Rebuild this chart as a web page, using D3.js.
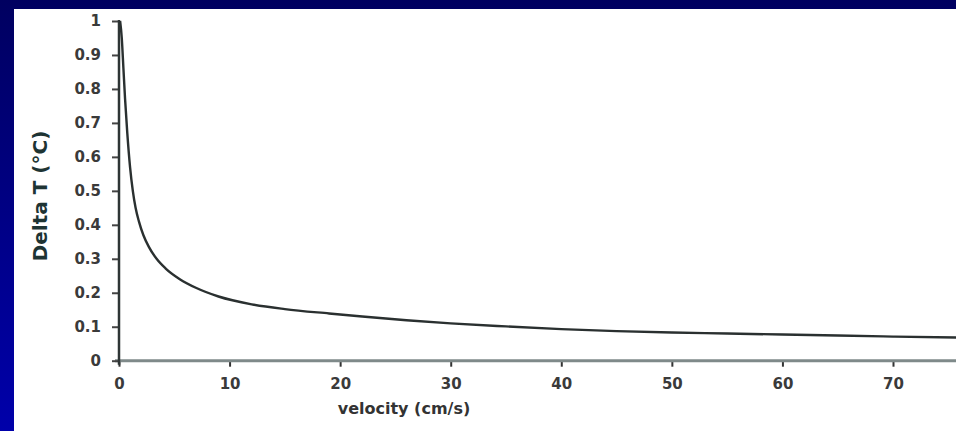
<!DOCTYPE html>
<html><head><meta charset="utf-8">
<script src="https://cdn.jsdelivr.net/npm/d3@7"></script>
<style>
html,body{margin:0;padding:0;overflow:hidden;background:#000066;}
svg{display:block;}
</style></head>
<body>
<svg id="chart" width="956" height="431"></svg>
<script>
// Data
const velocity = [0.1,0.25,0.4,0.55,0.75,1.0,1.25,1.5,1.8,2.2,2.7,3.4,4.2,5.5,7,9,12,15,19,22,26,30,35,40,45,50,55,60,65,70,76];
const deltaT   = [1.0,0.95,0.86,0.77,0.67,0.57,0.50,0.45,0.41,0.37,0.335,0.30,0.272,0.24,0.214,0.189,0.166,0.152,0.139,0.130,0.119,0.110,0.101,0.093,0.087,0.083,0.080,0.077,0.074,0.071,0.068];
const xTicks = [0,10,20,30,40,50,60,70];
const yTicks = [0,0.1,0.2,0.3,0.4,0.5,0.6,0.7,0.8,0.9,1];
const xLabel = "velocity (cm/s)";
const yLabel = "Delta T (°C)";

const svg = d3.select("#chart");
const W = 956, H = 431;

// background
const defs = svg.append("defs");
const grad = defs.append("linearGradient").attr("id","bg").attr("x1",0).attr("y1",0).attr("x2",0).attr("y2",1);
grad.append("stop").attr("offset","0%").attr("stop-color","#000060");
grad.append("stop").attr("offset","100%").attr("stop-color","#0000aa");
svg.append("rect").attr("width",W).attr("height",H).attr("fill","url(#bg)");
svg.append("rect").attr("x",14).attr("y",9).attr("width",W-14).attr("height",H-9).attr("fill","#ffffff");

const x = d3.scaleLinear().domain([0,70]).range([119,893]);
const y = d3.scaleLinear().domain([0,1]).range([360.7,21]);

const font = "'DejaVu Sans', Verdana, sans-serif";

// x axis
const xAxis = svg.append("g").attr("transform",`translate(0,${y(0)})`)
  .call(d3.axisBottom(x).tickValues(xTicks).tickSize(6).tickSizeOuter(0).tickFormat(d3.format("d")));
xAxis.select(".domain").remove();
xAxis.append("line").attr("x1",x(0)-4).attr("x2",W).attr("y1",0).attr("y2",0)
  .attr("stroke","#7f8a8a").attr("stroke-width",3);
xAxis.selectAll(".tick line").attr("stroke","#333").attr("stroke-width",2).attr("y1",1);
xAxis.selectAll(".tick text").attr("y",28).attr("dy","0")
  .attr("font-family",font).attr("font-size",15).attr("font-weight","bold").attr("fill","#3a3a3a");

// y axis
const yAxis = svg.append("g").attr("transform",`translate(${x(0)},0)`)
  .call(d3.axisLeft(y).tickValues(yTicks).tickSize(7).tickSizeOuter(0).tickFormat(d => d===0||d===1 ? String(d) : d3.format(".1f")(d)));
yAxis.select(".domain").remove();
yAxis.append("line").attr("x1",0).attr("x2",0).attr("y1",y(1)-1).attr("y2",y(0)+4)
  .attr("stroke","#2e3535").attr("stroke-width",2.5);
yAxis.selectAll(".tick line").attr("stroke","#444").attr("stroke-width",2);
yAxis.selectAll(".tick text").attr("x",-18)
  .attr("font-family",font).attr("font-size",15).attr("font-weight","bold").attr("fill","#3a3a3a");

// curve
const data = velocity.map((v,i)=>({v, t: deltaT[i]}));
svg.append("path").datum(data)
  .attr("fill","none").attr("stroke","#2a3030").attr("stroke-width",2.4)
  .attr("d", d3.line().x(d=>x(d.v)).y(d=>y(d.t)).curve(d3.curveMonotoneX));

// axis labels
svg.append("text").attr("x",404).attr("y",414).attr("text-anchor","middle")
  .attr("font-family",font).attr("font-size",16).attr("font-weight","bold").attr("fill","#333")
  .text(xLabel);
svg.append("text").attr("transform","translate(47,196) rotate(-90)").attr("text-anchor","middle")
  .attr("font-family",font).attr("font-size",20).attr("font-weight","bold").attr("fill","#1e3434")
  .text(yLabel);
</script>
</body></html>
